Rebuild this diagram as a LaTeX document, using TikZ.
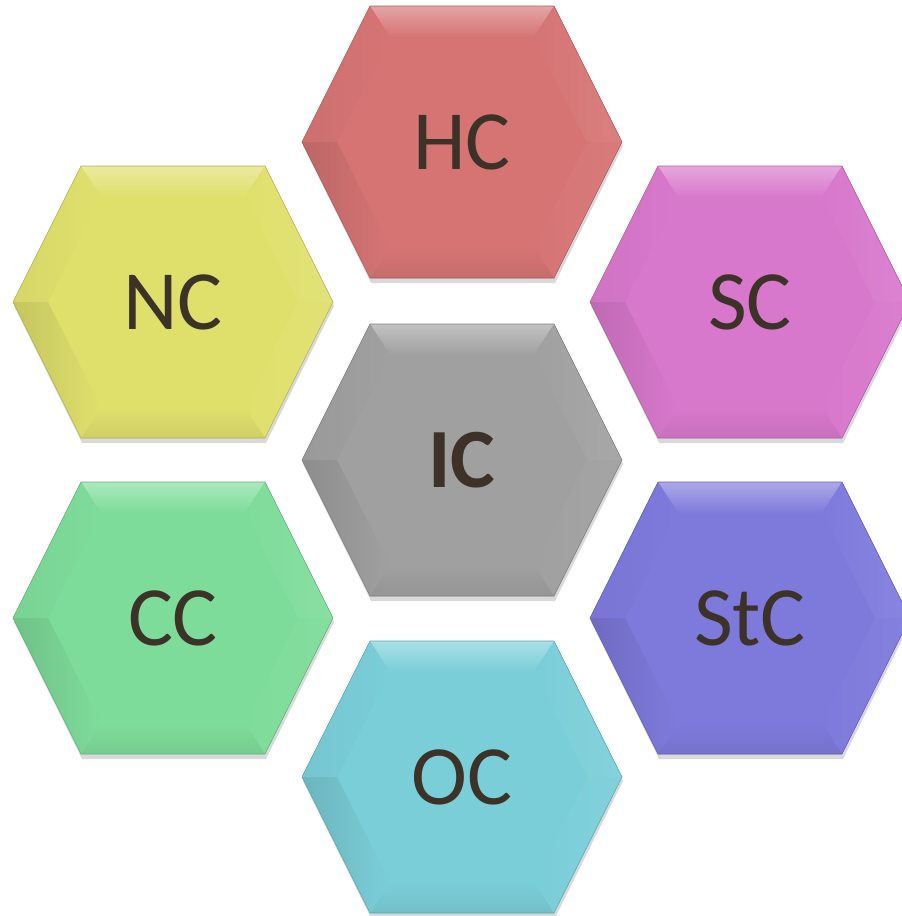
\documentclass[tikz,border=0pt]{standalone}
\usepackage{fontspec}
\setmainfont{Carlito}
\usetikzlibrary{calc}
\definecolor{hccol}{HTML}{D67474}
\definecolor{nccol}{HTML}{DFE06C}
\definecolor{sccol}{HTML}{D878CC}
\definecolor{iccol}{HTML}{A0A0A0}
\definecolor{cccol}{HTML}{7EDC9A}
\definecolor{stccol}{HTML}{7E7ADC}
\definecolor{occol}{HTML}{7ACED8}
\definecolor{celltext}{HTML}{3C3228}
\tikzset{
  cell label/.style = {font=\fontsize{48}{48}\selectfont, text=celltext, inner sep=0pt},
  cell edge/.style  = {line width=0.3pt},
  cell shadow/.style= {fill=black, opacity=0.15},
}
% one bevelled hexagon: name, x, y, colour, label
\newcommand{\hexcell}[5]{%
  \begin{scope}[shift={(#2,#3)}]
    \coordinate (o1) at (-92,-136); \coordinate (o2) at (92,-136);
    \coordinate (o3) at (160,0);    \coordinate (o4) at (92,136);
    \coordinate (o5) at (-92,136);  \coordinate (o6) at (-160,0);
    \coordinate (i1) at (-72,-105); \coordinate (i2) at (72,-105);
    \coordinate (i3) at (125,0);    \coordinate (i4) at (72,105);
    \coordinate (i5) at (-72,105);  \coordinate (i6) at (-125,0);
    \fill[cell shadow] ($(o1)+(1,4)$) -- ($(o2)+(1,4)$) -- ($(o3)+(1,4)$)
      -- ($(o4)+(1,5)$) -- ($(o5)+(1,5)$) -- ($(o6)+(1,4)$) -- cycle;
    \fill[#4] (o1) -- (o2) -- (o3) -- (o4) -- (o5) -- (o6) -- cycle;
    \shade[top color=#4!65!white, bottom color=#4] (o1) -- (o2) -- (i2) -- (i1) -- cycle;
    \shade[left color=#4, right color=#4!92!white] (o2) -- (o3) -- (i3) -- (i2) -- cycle;
    \shade[left color=#4, right color=#4!95!white] (o3) -- (o4) -- (i4) -- (i3) -- cycle;
    \shade[top color=#4, bottom color=#4!93!black] (o4) -- (o5) -- (i5) -- (i4) -- cycle;
    \shade[left color=#4!88!black, right color=#4] (o5) -- (o6) -- (i6) -- (i5) -- cycle;
    \shade[left color=#4!96!black, right color=#4] (o6) -- (o1) -- (i1) -- (i6) -- cycle;
    \draw[cell edge, #4!80!black] (o1) -- (o2) -- (o3) -- (o4) -- (o5) -- (o6) -- cycle;
  \end{scope}
  \node[cell label] (#1) at (#2,#3) {#5};
}
\begin{document}
\begin{tikzpicture}[x=0.02cm, y=-0.02cm]
  \useasboundingbox (0,0) rectangle (902,916);
  \clip (0,0) rectangle (902,916);
  \hexcell{hc}{462}{142}{hccol}{HC}
  \hexcell{nc}{173}{302}{nccol}{NC}
  \hexcell{sc}{750}{302}{sccol}{SC}
  \hexcell{ic}{462}{460}{iccol}{\bfseries IC}
  \hexcell{cc}{173}{618}{cccol}{CC}
  \hexcell{stc}{750}{618}{stccol}{StC}
  \hexcell{oc}{462}{777}{occol}{OC}
\end{tikzpicture}
\end{document}
